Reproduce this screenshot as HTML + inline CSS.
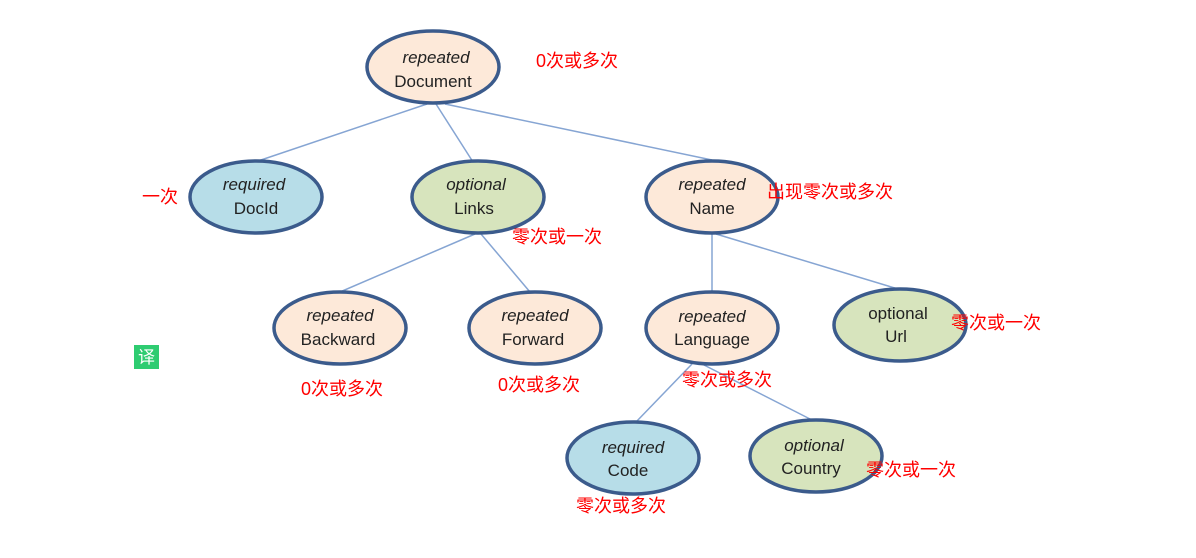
<!DOCTYPE html>
<html><head><meta charset="utf-8"><style>
html,body{margin:0;padding:0;background:#fff;width:1196px;height:558px;overflow:hidden}
svg text{font-family:"Liberation Sans","Noto Sans CJK SC",sans-serif}
</style></head><body>
<svg width="1196" height="558" xmlns="http://www.w3.org/2000/svg">
<g stroke="#86a5d3" stroke-width="1.5">
<line x1="427" y1="104" x2="258" y2="161"/>
<line x1="436" y1="104" x2="473" y2="162"/>
<line x1="445" y1="104" x2="712" y2="160"/>
<line x1="475" y1="234" x2="340" y2="292"/>
<line x1="481" y1="234" x2="530" y2="292"/>
<line x1="712" y1="234" x2="712" y2="292"/>
<line x1="716" y1="234" x2="898" y2="289"/>
<line x1="692" y1="364" x2="636" y2="422"/>
<line x1="702" y1="364" x2="812" y2="420"/>
</g>
<g stroke="#3b5b8c" stroke-width="3.5">
<ellipse cx="433" cy="67" rx="66" ry="36" fill="#fde9d9"/>
<ellipse cx="256" cy="197" rx="66" ry="36" fill="#b7dde8"/>
<ellipse cx="478" cy="197" rx="66" ry="36" fill="#d7e4bd"/>
<ellipse cx="712" cy="197" rx="66" ry="36" fill="#fde9d9"/>
<ellipse cx="340" cy="328" rx="66" ry="36" fill="#fde9d9"/>
<ellipse cx="535" cy="328" rx="66" ry="36" fill="#fde9d9"/>
<ellipse cx="712" cy="328" rx="66" ry="36" fill="#fde9d9"/>
<ellipse cx="900" cy="325" rx="66" ry="36" fill="#d7e4bd"/>
<ellipse cx="633" cy="458" rx="66" ry="36" fill="#b7dde8"/>
<ellipse cx="816" cy="456" rx="66" ry="36" fill="#d7e4bd"/>
</g>
<g font-size="17" fill="#222" text-anchor="middle">
<text x="436" y="63" font-style="italic">repeated</text><text x="433" y="87">Document</text>
<text x="254" y="190" font-style="italic">required</text><text x="256" y="214">DocId</text>
<text x="476" y="190" font-style="italic">optional</text><text x="474" y="214">Links</text>
<text x="712" y="190" font-style="italic">repeated</text><text x="712" y="214">Name</text>
<text x="340" y="321" font-style="italic">repeated</text><text x="338" y="345">Backward</text>
<text x="535" y="321" font-style="italic">repeated</text><text x="533" y="345">Forward</text>
<text x="712" y="322" font-style="italic">repeated</text><text x="712" y="345">Language</text>
<text x="898" y="319">optional</text><text x="896" y="342">Url</text>
<text x="633" y="453" font-style="italic">required</text><text x="628" y="476">Code</text>
<text x="814" y="451" font-style="italic">optional</text><text x="811" y="474">Country</text>
</g>
<g font-size="18" fill="#ff0000">
<text x="536" y="67">0次或多次</text>
<text x="142" y="203">一次</text>
<text x="512" y="243">零次或一次</text>
<text x="767" y="198">出现零次或多次</text>
<text x="951" y="329">零次或一次</text>
<text x="301" y="395">0次或多次</text>
<text x="498" y="391">0次或多次</text>
<text x="682" y="386">零次或多次</text>
<text x="866" y="476">零次或一次</text>
<text x="576" y="512">零次或多次</text>
</g>
<rect x="134" y="345" width="25" height="24" fill="#2ecc71"/>
<text x="146.5" y="363" font-size="17" fill="#fff" text-anchor="middle">译</text>
</svg>
</body></html>
